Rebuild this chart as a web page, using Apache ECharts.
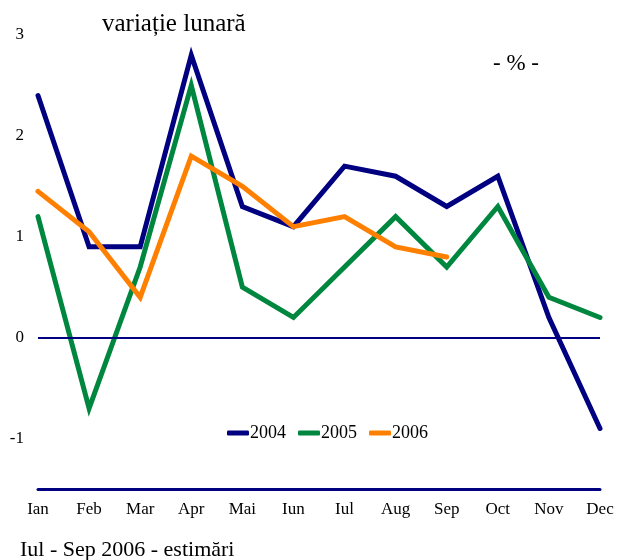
<!DOCTYPE html>
<html>
<head>
<meta charset="utf-8">
<script src="https://cdn.jsdelivr.net/npm/echarts@6/dist/echarts.min.js"></script>
<style>
	html, body { margin: 0; padding: 0; background: #fff; }
	#chart { width: 617px; height: 560px; }
</style>
</head>
<body>
<div id="chart"></div>
<script>
const months = ["Ian", "Feb", "Mar", "Apr", "Mai", "Iun", "Iul", "Aug", "Sep", "Oct", "Nov", "Dec"];
const y2004 = [2.4, 0.9, 0.9, 2.8, 1.3, 1.1, 1.7, 1.6, 1.3, 1.6, 0.2, -0.9];
const y2005 = [1.2, -0.7, 0.7, 2.5, 0.5, 0.2, 0.7, 1.2, 0.7, 1.3, 0.4, 0.2];
const y2006 = [1.45, 1.05, 0.4, 1.8, 1.5, 1.1, 1.2, 0.9, 0.8];

const font = "Liberation Serif";
const navy = "#000080";

const chart = echarts.init(document.getElementById("chart"));

function line(name, data, color) {
	return {
		name: name,
		type: "line",
		data: data,
		symbol: "none",
		lineStyle: { width: 5, color: color, cap: "round", join: "miter" },
		itemStyle: { color: color },
		animation: false,
	};
}

const series = [
	line("2004", y2004, navy),
	line("2005", y2005, "#00873f"),
	line("2006", y2006, "#ff8000"),
];
// linia de zero
series[0].markLine = {
	silent: true,
	symbol: "none",
	label: { show: false },
	lineStyle: { color: navy, width: 2, type: "solid" },
	data: [{ yAxis: 0 }],
};

chart.setOption({
	backgroundColor: "#fff",
	textStyle: { fontFamily: font },
	title: [
		{
			text: "variație lunară",
			left: 97,
			top: 7,
			textStyle: { fontFamily: font, fontSize: 25, fontWeight: "normal", color: "#000" },
		},
		{
			text: "- % -",
			left: 488,
			top: 47,
			textStyle: { fontFamily: font, fontSize: 23, fontWeight: "normal", color: "#000" },
		},
		{
			text: "Iul - Sep 2006 - estimări",
			left: 15,
			top: 534,
			textStyle: { fontFamily: font, fontSize: 22, fontWeight: "normal", color: "#000" },
		},
	],
	legend: {
		data: ["2004", "2005", "2006"],
		left: 222,
		top: 419,
		icon: "roundRect",
		itemWidth: 22,
		itemHeight: 5,
		itemGap: 12,
		textStyle: { fontFamily: font, fontSize: 18, color: "#000", padding: [0, 0, 0, -4] },
	},
	grid: { left: 38, right: 17, top: 35, bottom: 71 },
	xAxis: {
		type: "category",
		data: months,
		boundaryGap: false,
		axisLine: { onZero: false, lineStyle: { color: navy, width: 3 } },
		axisTick: { show: false },
		axisLabel: { color: "#000", fontFamily: font, fontSize: 17, margin: 12 },
		splitLine: { show: false },
	},
	yAxis: {
		type: "value",
		min: -1.5,
		max: 3,
		interval: 0.5,
		axisLine: { show: false },
		axisTick: { show: false },
		splitLine: { show: false },
		axisLabel: {
			color: "#000",
			fontFamily: font,
			fontSize: 17,
			margin: 14,
			formatter: function (v) {
				return Number.isInteger(v) ? String(v) : "";
			},
		},
	},
	series: series,
});
</script>
</body>
</html>
